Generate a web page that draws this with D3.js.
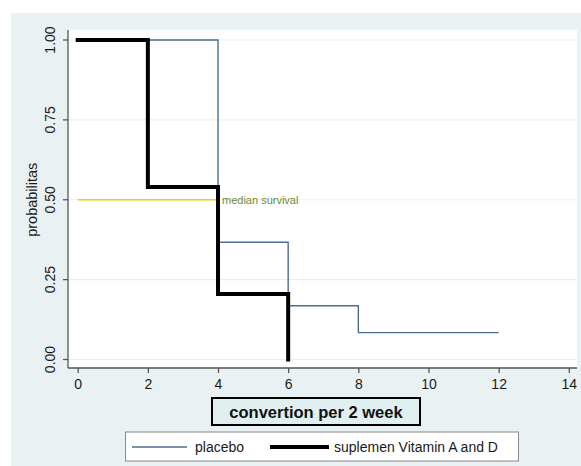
<!DOCTYPE html>
<html>
<head>
<meta charset="utf-8">
<script src="https://cdn.jsdelivr.net/npm/d3@7"></script>
<style>
  body { margin: 0; background: #fff; }
  svg { display: block; font-family: Arial, "Liberation Sans", sans-serif; }
</style>
</head>
<body>
<div id="chart"></div>
<script>
// data
const placeboTimes = [0, 4, 6, 8, 12];
const placeboSurv = [1, 0.367, 0.168, 0.084, 0.084];
const vitTimes = [0, 2, 4, 6, 6];
const vitSurv = [1, 0.54, 0.205, 0, 0];
const xTicks = [0, 2, 4, 6, 8, 10, 12, 14];
const yTicks = [0, 0.25, 0.5, 0.75, 1];
const medianValue = 0.5;
const medianEnd = 4;

const width = 581, height = 466;
const plot = { left: 68, right: 577, top: 30, bottom: 368 };

const svg = d3.select("#chart").append("svg")
  .attr("width", width)
  .attr("height", height);

// outer background
svg.append("rect")
  .attr("x", 11).attr("y", 13)
  .attr("width", width - 11).attr("height", height - 13)
  .attr("fill", "#eaf1f3");

svg.append("rect")
  .attr("x", plot.left).attr("y", plot.top)
  .attr("width", plot.right - plot.left).attr("height", plot.bottom - plot.top)
  .attr("fill", "#fff");

const x = d3.scaleLinear().domain([0, 14]).range([77.7, 568.8]);
const y = d3.scaleLinear().domain([0, 1]).range([359.5, 40]);

// grid lines
svg.selectAll(".grid")
  .data(yTicks)
  .join("line")
  .attr("x1", plot.left).attr("x2", plot.right)
  .attr("y1", d => y(d)).attr("y2", d => y(d))
  .attr("stroke", "#e6f0f2")
  .attr("stroke-width", 1.2);

// axes
const xAxis = svg.append("g")
  .attr("transform", `translate(0,${plot.bottom})`)
  .call(d3.axisBottom(x).tickValues(xTicks).tickFormat(d3.format("d")).tickSizeOuter(0).tickSize(5).tickPadding(6));
xAxis.select(".domain").attr("d", `M${plot.left},0H${plot.right}`);

const yAxis = svg.append("g")
  .attr("transform", `translate(${plot.left},0)`)
  .call(d3.axisLeft(y).tickValues(yTicks).tickFormat(d3.format(".2f")).tickSizeOuter(0).tickSize(5));
yAxis.select(".domain").attr("d", `M0,${plot.top}V${plot.bottom}`);

svg.selectAll(".domain, .tick line").attr("stroke", "#555").attr("stroke-width", 1.3);
xAxis.selectAll("text").attr("font-size", 14).attr("fill", "#1a1a1a");
yAxis.selectAll("text")
  .attr("font-size", 14).attr("fill", "#1a1a1a")
  .attr("transform", d => `translate(-18,${y(d)}) rotate(-90)`)
  .attr("x", 0).attr("dy", "0.35em").attr("y", 0)
  .attr("text-anchor", "middle");
yAxis.selectAll(".tick").attr("transform", null);
yAxis.selectAll(".tick line").attr("transform", d => `translate(0,${y(d)})`);

// y title
svg.append("text")
  .attr("transform", `translate(37,${y(0.5)}) rotate(-90)`)
  .attr("text-anchor", "middle")
  .attr("font-size", 14.5).attr("fill", "#1a1a1a")
  .text("probabilitas");

// median line
svg.append("line")
  .attr("x1", x(0)).attr("x2", x(medianEnd))
  .attr("y1", y(medianValue)).attr("y2", y(medianValue))
  .attr("stroke", "#f2d000").attr("stroke-width", 1.5);

const step = d3.line().curve(d3.curveStepAfter).x(d => x(d[0])).y(d => y(d[1]));

svg.append("path")
  .datum(placeboTimes.map((t, i) => [t, placeboSurv[i]]))
  .attr("d", step)
  .attr("fill", "none")
  .attr("stroke", "#4a6e91")
  .attr("stroke-width", 1.4);

svg.append("path")
  .datum(vitTimes.map((t, i) => [t, vitSurv[i]]))
  .attr("d", step)
  .attr("fill", "none")
  .attr("stroke", "#000")
  .attr("stroke-width", 4)
  .attr("stroke-linecap", "square");

svg.append("text")
  .attr("x", x(medianEnd) + 4).attr("y", y(medianValue))
  .attr("dy", "0.35em")
  .attr("font-size", 11).attr("fill", "#6e8a3a")
  .text("median survival");

// x title in a box
svg.append("rect")
  .attr("x", 212).attr("y", 398).attr("width", 208).attr("height", 27)
  .attr("fill", "#e0f0f0").attr("stroke", "#000").attr("stroke-width", 2);
svg.append("text")
  .attr("x", 316).attr("y", 412).attr("dy", "0.35em")
  .attr("text-anchor", "middle")
  .attr("font-size", 16.5).attr("font-weight", "bold").attr("fill", "#111")
  .text("convertion per 2 week");

// legend
const legend = svg.append("g");
legend.append("rect")
  .attr("x", 125.5).attr("y", 432).attr("width", 393).attr("height", 29)
  .attr("fill", "#fff").attr("stroke", "#888").attr("stroke-width", 1);
const legendItems = [
  { label: "placebo", color: "#4a6e91", w: 1.4, x1: 132, x2: 187, tx: 195 },
  { label: "suplemen Vitamin A and D", color: "#000", w: 4, x1: 270, x2: 329, tx: 334 }
];
legend.selectAll("line")
  .data(legendItems)
  .join("line")
  .attr("x1", d => d.x1).attr("x2", d => d.x2)
  .attr("y1", 447).attr("y2", 447)
  .attr("stroke", d => d.color).attr("stroke-width", d => d.w);
legend.selectAll("text")
  .data(legendItems)
  .join("text")
  .attr("x", d => d.tx).attr("y", 447).attr("dy", "0.35em")
  .attr("font-size", 14).attr("fill", "#1a1a1a")
  .text(d => d.label);
</script>
</body>
</html>
